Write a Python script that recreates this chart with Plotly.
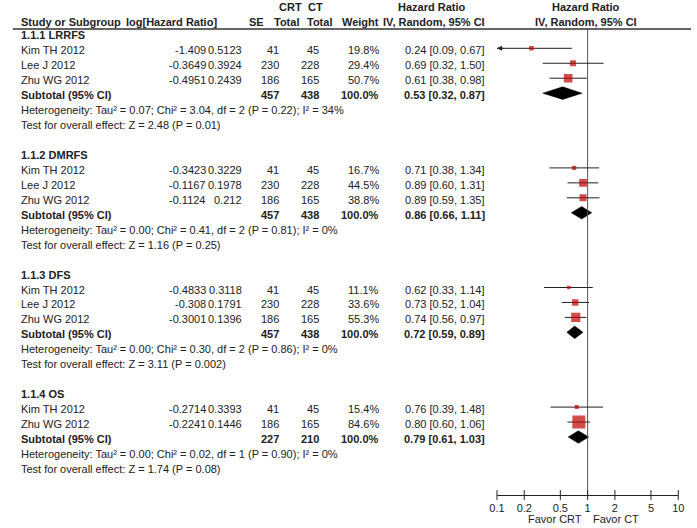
import math
import plotly.graph_objects as go

# ---------------- data ----------------
subgroups = ["1.1.1 LRRFS", "1.1.2 DMRFS", "1.1.3 DFS", "1.1.4 OS"]
study_group = [0, 0, 0, 1, 1, 1, 2, 2, 2, 3, 3]
study_names = ["Kim TH 2012", "Lee J 2012", "Zhu WG 2012",
               "Kim TH 2012", "Lee J 2012", "Zhu WG 2012",
               "Kim TH 2012", "Lee J 2012", "Zhu WG 2012",
               "Kim TH 2012", "Zhu WG 2012"]
log_hr = [-1.409, -0.3649, -0.4951, -0.3423, -0.1167, -0.1124,
          -0.4833, -0.308, -0.3001, -0.2714, -0.2241]
se_vals = [0.5123, 0.3924, 0.2439, 0.3229, 0.1978, 0.212,
           0.3118, 0.1791, 0.1396, 0.3393, 0.1446]
crt_total = [41, 230, 186, 41, 230, 186, 41, 230, 186, 41, 186]
ct_total = [45, 228, 165, 45, 228, 165, 45, 228, 165, 45, 165]
weights = [19.8, 29.4, 50.7, 16.7, 44.5, 38.8, 11.1, 33.6, 55.3, 15.4, 84.6]
hr = [0.24, 0.69, 0.61, 0.71, 0.89, 0.89, 0.62, 0.73, 0.74, 0.76, 0.80]
hr_lo = [0.09, 0.32, 0.38, 0.38, 0.60, 0.59, 0.33, 0.52, 0.56, 0.39, 0.60]
hr_hi = [0.67, 1.50, 0.98, 1.34, 1.31, 1.35, 1.14, 1.04, 0.97, 1.48, 1.06]

sub_crt = [457, 457, 457, 227]
sub_ct = [438, 438, 438, 210]
sub_hr = [0.53, 0.86, 0.72, 0.79]
sub_lo = [0.32, 0.66, 0.59, 0.61]
sub_hi = [0.87, 1.11, 0.89, 1.03]
het_tau2 = ["0.07", "0.00", "0.00", "0.00"]
het_chi2 = ["3.04", "0.41", "0.30", "0.02"]
het_df = [2, 2, 2, 1]
het_p = ["0.22", "0.81", "0.86", "0.90"]
het_i2 = [34, 0, 0, 0]
z_vals = ["2.48", "1.16", "3.11", "1.74"]
z_p = ["0.01", "0.25", "0.002", "0.08"]

tick_vals = [0.1, 0.2, 0.5, 1, 2, 5, 10]
tick_text = ["0.1", "0.2", "0.5", "1", "2", "5", "10"]
x_min, x_max = 0.1, 10

# ---------------- layout constants ----------------
W, H = 697, 528
FONT = "Arial, Liberation Sans, sans-serif"
TEXT = "#222222"
RED = "#C00000"
TOP, ROW = 50.3, 14.95
MARK_DY = -2.0
AXIS_Y = 495
HEAD_LINE_Y = 29
PLOT_L, PLOT_R = 499, 684
NAME_L, LOG_R, SE_R, CRT_R, CT_R, W_R, HR_R = 12, 203, 240, 278, 318, 380, 488

fig = go.Figure()


def txt(x, y, s, anchor="left", bold=False):
    fig.add_annotation(x=x / W, y=y, xref="paper", yref="y",
                       text=f"<b>{s}</b>" if bold else s, showarrow=False,
                       xanchor=anchor, yanchor="middle", borderpad=0,
                       font=dict(family=FONT, size=11, color=TEXT))


def row_y(k):
    return TOP + ROW * k


# headers
txt(288, 7, "CRT", "center", True)
txt(314, 7, "CT", "center", True)
txt(433, 7, "Hazard Ratio", "center", True)
txt(590, 7, "Hazard Ratio", "center", True)
txt(NAME_L, 22, "Study or Subgroup", "left", True)
txt(214, 22, "log[Hazard Ratio]", "right", True)
txt(262, 22, "SE", "right", True)
txt(298, 22, "Total", "right", True)
txt(332, 22, "Total", "right", True)
txt(380, 22, "Weight", "right", True)
txt(488, 22, "IV, Random, 95% CI", "right", True)
txt(590, 22, "IV, Random, 95% CI", "center", True)

fig.add_shape(type="line", xref="paper", yref="y", x0=5 / W, x1=1,
              y0=HEAD_LINE_Y, y1=HEAD_LINE_Y, line=dict(color="#333333", width=1.3))

# rows
wx, wy = [], []
sq_x, sq_y, sq_s = [], [], []
for g, name in enumerate(subgroups):
    idx = [i for i, sg in enumerate(study_group) if sg == g]
    base = 8 * g
    txt(NAME_L, row_y(base - 1), name, "left", True)
    for j, i in enumerate(idx):
        y = row_y(base + j)
        my = y + MARK_DY
        txt(NAME_L, y, study_names[i])
        txt(LOG_R, y, repr(log_hr[i]), "right")
        txt(SE_R, y, repr(se_vals[i]), "right")
        txt(CRT_R, y, str(crt_total[i]), "right")
        txt(CT_R, y, str(ct_total[i]), "right")
        txt(W_R, y, f"{weights[i]:.1f}%", "right")
        txt(HR_R, y, f"{hr[i]:.2f} [{hr_lo[i]:.2f}, {hr_hi[i]:.2f}]", "right")
        lo = max(hr_lo[i], x_min)
        hi = min(hr_hi[i], x_max)
        wx += [lo, hi, None]
        wy += [my, my, None]
        if hr_lo[i] < x_min:
            fig.add_annotation(x=math.log10(x_min), y=my, xref="x", yref="y",
                               ax=8, ay=0, text="", showarrow=True,
                               arrowhead=2, arrowsize=1, arrowwidth=1,
                               arrowcolor="#222222", standoff=0)
        sq_x.append(hr[i])
        sq_y.append(my)
        sq_s.append(2 + 0.13 * weights[i])
    n = len(idx)
    ys = row_y(base + n)
    txt(NAME_L, ys, "Subtotal (95% CI)", "left", True)
    txt(CRT_R, ys, str(sub_crt[g]), "right", True)
    txt(CT_R, ys, str(sub_ct[g]), "right", True)
    txt(W_R, ys, "100.0%", "right", True)
    txt(HR_R, ys, f"{sub_hr[g]:.2f} [{sub_lo[g]:.2f}, {sub_hi[g]:.2f}]", "right", True)
    txt(NAME_L, row_y(base + n + 1),
        f"Heterogeneity: Tau² = {het_tau2[g]}; Chi² = {het_chi2[g]}, df = {het_df[g]} "
        f"(P = {het_p[g]}); I² = {het_i2[g]}%")
    txt(NAME_L, row_y(base + n + 2),
        f"Test for overall effect: Z = {z_vals[g]} (P = {z_p[g]})")
    dy = ys + MARK_DY
    fig.add_trace(go.Scatter(
        x=[sub_lo[g], sub_hr[g], sub_hi[g], sub_hr[g], sub_lo[g]],
        y=[dy, dy - 6.3, dy, dy + 6.3, dy],
        mode="lines", fill="toself", fillcolor="black",
        line=dict(color="black", width=0.5), hoverinfo="skip"))

# reference line at HR = 1
fig.add_trace(go.Scatter(x=[1, 1], y=[HEAD_LINE_Y, AXIS_Y], mode="lines",
                         line=dict(color="#555555", width=1), hoverinfo="skip"))
# whiskers
fig.add_trace(go.Scatter(x=wx, y=wy, mode="lines",
                         line=dict(color="#222222", width=1), hoverinfo="skip"))
# squares
fig.add_trace(go.Scatter(x=sq_x, y=sq_y, mode="markers",
                         marker=dict(symbol="square", size=sq_s, color=RED,
                                     line=dict(width=0)), hoverinfo="skip"))
# tick marks crossing the axis
fig.add_trace(go.Scatter(x=tick_vals, y=[AXIS_Y] * len(tick_vals), mode="markers",
                         marker=dict(symbol="line-ns", size=7,
                                     line=dict(color="#222222", width=1)),
                         hoverinfo="skip", cliponaxis=False))

txt(587, 519, "Favor CRT", "right")
txt(596, 519, "Favor CT", "left")

fig.update_layout(
    width=W, height=H, margin=dict(l=0, r=0, t=0, b=0),
    paper_bgcolor="white", plot_bgcolor="rgba(0,0,0,0)", showlegend=False,
    hovermode=False,
    xaxis=dict(type="log", range=[math.log10(x_min), math.log10(x_max)],
               domain=[PLOT_L / W, PLOT_R / W], anchor="free",
               position=1 - AXIS_Y / H, showline=True, linecolor="#222222",
               linewidth=1, ticks="", tickvals=tick_vals, ticktext=tick_text,
               showgrid=False, zeroline=False, ticklabelstandoff=3,
               tickfont=dict(family=FONT, size=11, color=TEXT), fixedrange=True),
    yaxis=dict(range=[H, 0], domain=[0, 1], visible=False, fixedrange=True),
)

fig.write_html("out.html", config={"displayModeBar": False},
               post_script="document.body.style.margin='0px';")
